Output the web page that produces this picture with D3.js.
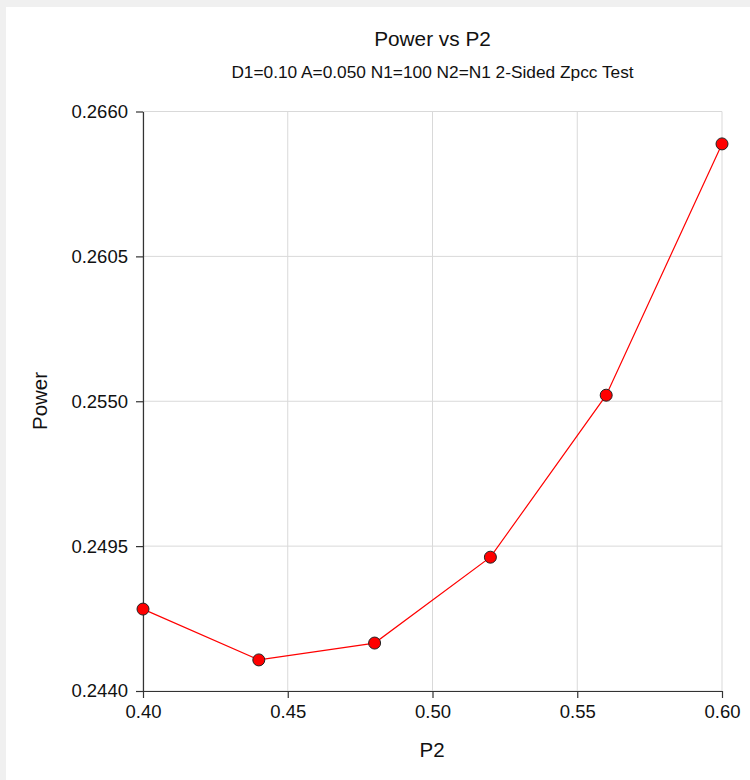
<!DOCTYPE html>
<html>
<head>
<meta charset="utf-8">
<script src="https://cdn.jsdelivr.net/npm/d3@7"></script>
<style>
  html, body { margin: 0; padding: 0; background: #f0f0f0; }
  svg { display: block; }
</style>
</head>
<body>
<script>
const p2Values = [0.40, 0.44, 0.48, 0.52, 0.56, 0.60];
const powerValues = [0.24711, 0.24518, 0.24582, 0.24908, 0.25523, 0.26477];
const xTicks = [0.40, 0.45, 0.50, 0.55, 0.60];
const yTicks = [0.2440, 0.2495, 0.2550, 0.2605, 0.2660];
const titleText = "Power vs P2";
const subtitleText = "D1=0.10 A=0.050 N1=100 N2=N1 2-Sided Zpcc Test";
const xLabel = "P2";
const yLabel = "Power";

(function () {
const W = 750, H = 780;
const font = "'Liberation Sans', Arial, sans-serif";
const svg = d3.select("body").append("svg").attr("width", W).attr("height", H);

svg.append("rect").attr("x", 0).attr("y", 0).attr("width", W).attr("height", H).attr("fill", "#f0f0f0");
svg.append("rect").attr("x", 6).attr("y", 7).attr("width", W - 6).attr("height", H - 7).attr("fill", "#ffffff");

const pLeft = 143, pRight = 722, pTop = 111.5, pBottom = 691;
const x = d3.scaleLinear().domain([0.40, 0.60]).range([pLeft, pRight]);
const y = d3.scaleLinear().domain([0.2440, 0.2660]).range([pBottom, pTop]);

// grid
const grid = svg.append("g");
grid.selectAll("line.vx").data(xTicks).enter().append("line")
  .attr("x1", d => x(d)).attr("x2", d => x(d)).attr("y1", pTop).attr("y2", pBottom)
  .attr("stroke", "#d9d9d9").attr("stroke-width", 1);
grid.selectAll("line.hy").data(yTicks).enter().append("line")
  .attr("x1", pLeft).attr("x2", pRight).attr("y1", d => y(d)).attr("y2", d => y(d))
  .attr("stroke", "#d9d9d9").attr("stroke-width", 1);

// axes
const xAxis = d3.axisBottom(x).tickValues(xTicks).tickFormat(d3.format(".2f")).tickSizeInner(7).tickSizeOuter(0).tickPadding(7);
const yAxis = d3.axisLeft(y).tickValues(yTicks).tickFormat(d3.format(".4f")).tickSizeInner(7).tickSizeOuter(0).tickPadding(8);

const gx = svg.append("g").attr("transform", `translate(0,${pBottom})`).call(xAxis);
const gy = svg.append("g").attr("transform", `translate(${pLeft},0)`).call(yAxis);
[gx, gy].forEach(g => {
  g.select(".domain").attr("stroke", "#333").attr("stroke-width", 1.2);
  g.selectAll(".tick line").attr("stroke", "#333").attr("stroke-width", 1.2);
  g.selectAll(".tick text").attr("fill", "#111").style("font-family", font).style("font-size", "18.5px");
});

// line
const line = d3.line().x((d, i) => x(p2Values[i])).y(d => y(d));
svg.append("path").datum(powerValues).attr("d", line)
  .attr("fill", "none").attr("stroke", "#ff0000").attr("stroke-width", 1.2);

svg.selectAll("circle.pt").data(powerValues).enter().append("circle")
  .attr("cx", (d, i) => x(p2Values[i])).attr("cy", d => y(d)).attr("r", 6)
  .attr("fill", "#ff0000").attr("stroke", "#222").attr("stroke-width", 1);

// titles
svg.append("text").attr("x", 432.5).attr("y", 45.5).attr("text-anchor", "middle")
  .style("font-family", font).style("font-size", "20.8px").attr("fill", "#111").text(titleText);
svg.append("text").attr("x", 432.5).attr("y", 77.5).attr("text-anchor", "middle")
  .style("font-family", font).style("font-size", "17.3px").attr("fill", "#111").text(subtitleText);
svg.append("text").attr("x", 432).attr("y", 756.5).attr("text-anchor", "middle")
  .style("font-family", font).style("font-size", "20.5px").attr("fill", "#111").text(xLabel);
svg.append("text").attr("transform", `translate(46.5,401) rotate(-90)`).attr("text-anchor", "middle")
  .style("font-family", font).style("font-size", "20.5px").attr("fill", "#111").text(yLabel);
})();
</script>
</body>
</html>
